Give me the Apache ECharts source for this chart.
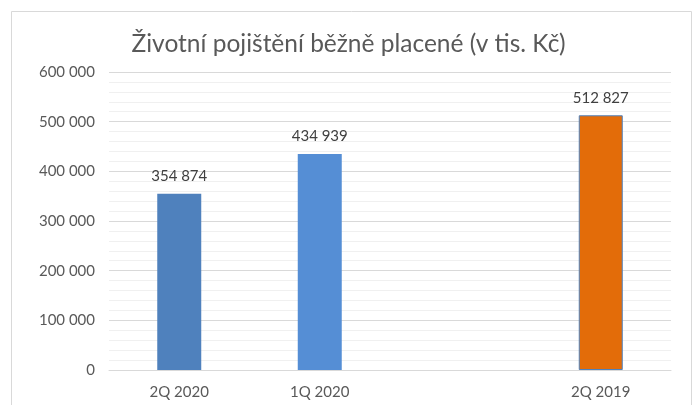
<!DOCTYPE html>
<html>
<head>
<meta charset="utf-8">
<script src="https://cdn.jsdelivr.net/npm/echarts@6/dist/echarts.min.js"></script>
<style>
  html, body { margin: 0; padding: 0; background: #fff; }
  #main { width: 697px; height: 405px; }
</style>
</head>
<body>
<div id="main"></div>
<script>
var categories = ['2Q 2020', '1Q 2020', '', '2Q 2019'];
var values = [354874, 434939, null, 512827];
var yTicks = [0, 100000, 200000, 300000, 400000, 500000, 600000];

var barColors = ['#4F81BD', '#558ED5', '#ffffff', '#E36C09'];
var barBorders = ['#4F81BD', '#558ED5', '#ffffff', '#4F81BD'];

function fmt(v) {
    return String(v).replace(/\B(?=(\d{3})+(?!\d))/g, ' ');
}

var myChart = echarts.init(document.getElementById('main'));

var seriesData = values.map(function (v, i) {
    if (v === null) return '-';
    return {
        value: v,
        itemStyle: { color: barColors[i], borderColor: barBorders[i], borderWidth: i === 3 ? 1 : 0 }
    };
});

var option = {
    backgroundColor: '#fff',
    textStyle: { fontFamily: 'Lato' },
    graphic: [{
        type: 'rect',
        shape: { x: 11.5, y: 11.5, width: 680, height: 420 },
        style: { fill: 'none', stroke: '#d9d9d9', lineWidth: 1 },
        silent: true
    }],
    title: {
        text: 'Životní pojištění běžně placené (v tis. Kč)',
        left: 'center',
        top: 27,
        textStyle: { fontFamily: 'Lato', fontSize: 24.5, fontWeight: 'normal', color: '#595959' }
    },
    grid: { left: 109, right: 26, top: 72, bottom: 35 },
    xAxis: {
        type: 'category',
        data: categories,
        axisTick: { show: false },
        axisLine: { lineStyle: { color: '#d9d9d9' } },
        axisLabel: { color: '#595959', fontSize: 15, margin: 15 }
    },
    yAxis: {
        type: 'value',
        min: yTicks[0],
        max: yTicks[yTicks.length - 1],
        interval: yTicks[1] - yTicks[0],
        axisLine: { show: false },
        axisTick: { show: false },
        axisLabel: { color: '#595959', fontSize: 15, margin: 14, formatter: fmt },
        splitLine: { lineStyle: { color: '#d9d9d9', width: 1 } },
        minorTick: { show: false, splitNumber: 5 },
        minorSplitLine: { show: true, lineStyle: { color: '#f0f0f0', width: 1 } }
    },
    series: [{
        type: 'bar',
        data: seriesData,
        barWidth: 44,
        label: {
            show: true,
            position: 'top',
            distance: 10,
            color: '#404040',
            fontSize: 15,
            formatter: function (p) { return fmt(p.value); }
        }
    }]
};
myChart.setOption(option);
</script>
</body>
</html>
